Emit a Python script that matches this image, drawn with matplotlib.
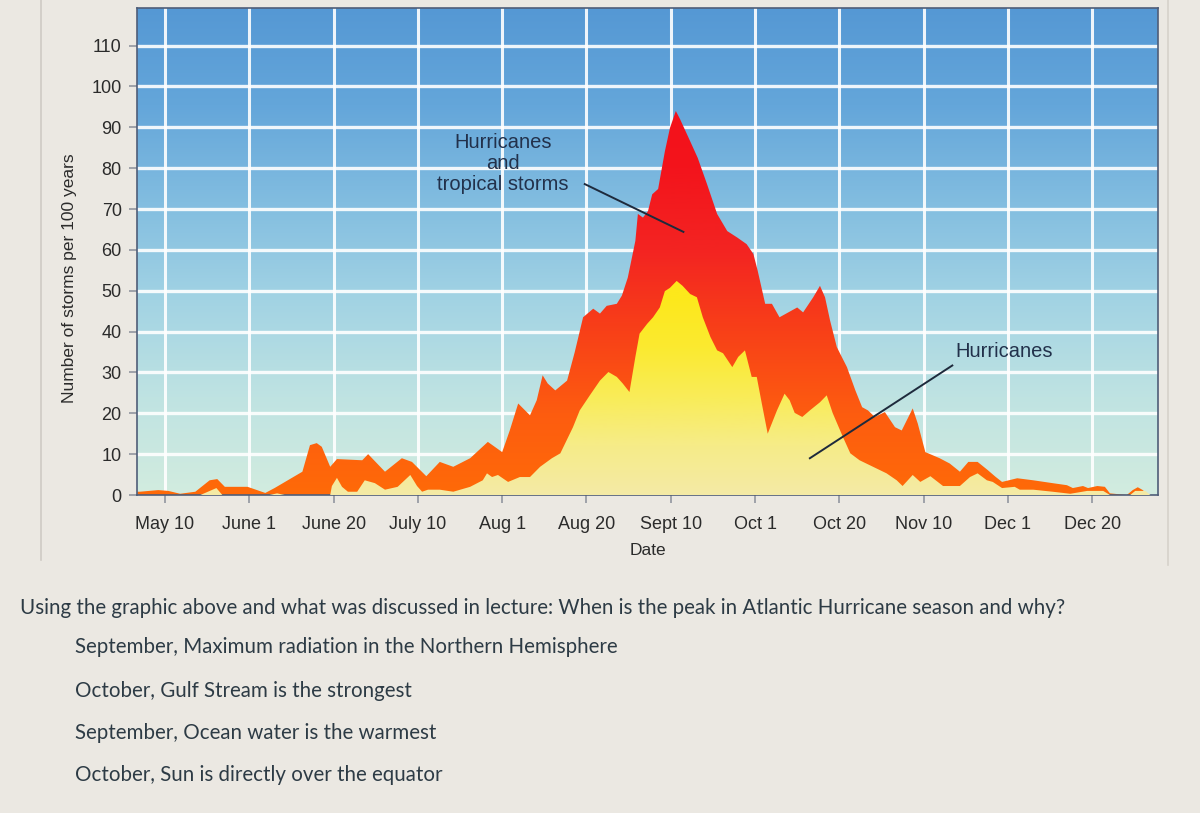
import numpy as np
import matplotlib.pyplot as plt
from matplotlib.colors import LinearSegmentedColormap
from matplotlib.patches import Polygon
from matplotlib.lines import Line2D

# ---------------- data ----------------
date_labels = ['May 10', 'June 1', 'June 20', 'July 10', 'Aug 1', 'Aug 20',
               'Sept 10', 'Oct 1', 'Oct 20', 'Nov 10', 'Dec 1', 'Dec 20']
storm_ticks = list(range(0, 111, 10))

# x in "tick units" (0 = May 10, 1 = June 1, ... 11 = Dec 20)
total_x = [-0.33, -0.30, -0.08, 0.04, 0.18, 0.36, 0.53, 0.62, 0.71, 0.98, 1.19, 1.30,
           1.63, 1.72, 1.80, 1.86, 1.96, 2.04, 2.34, 2.41, 2.61, 2.81, 2.93, 3.10,
           3.26, 3.42, 3.62, 3.83, 4.00, 4.09, 4.19, 4.33, 4.41, 4.48, 4.54, 4.63,
           4.77, 4.86, 4.96, 5.08, 5.16, 5.24, 5.36, 5.42, 5.49, 5.58, 5.61, 5.67,
           5.73, 5.78, 5.85, 5.93, 5.99, 6.06, 6.11, 6.23, 6.32, 6.43, 6.55, 6.67,
           6.79, 6.90, 6.98, 7.03, 7.12, 7.20, 7.29, 7.50, 7.57, 7.69, 7.77, 7.83,
           7.89, 7.97, 8.09, 8.19, 8.27, 8.34, 8.42, 8.54, 8.66, 8.74, 8.87, 8.93,
           9.02, 9.19, 9.31, 9.43, 9.53, 9.64, 9.76, 9.85, 9.93, 10.11, 10.30, 10.53,
           10.70, 10.77, 10.89, 10.95, 11.06, 11.15, 11.21, 11.41, 11.48, 11.54,
           11.60, 11.66, 11.78]
total_y = [0.8, 0.8, 1.2, 1.0, 0.3, 0.8, 3.6, 3.9, 2.0, 2.0, 0.5, 1.7,
           5.7, 12.2, 12.7, 11.8, 6.9, 8.8, 8.5, 10.0, 5.7, 9.0, 8.1, 4.6,
           8.1, 6.9, 9.0, 13.0, 10.5, 15.8, 22.4, 19.5, 23.2, 29.3, 27.3, 25.6,
           28.0, 34.9, 43.5, 45.6, 44.4, 46.3, 46.8, 48.8, 53.2, 62.2, 68.8, 67.9,
           69.5, 73.6, 74.9, 84.1, 89.8, 94.0, 92.0, 86.6, 82.5, 76.1, 68.8, 64.6,
           63.0, 61.4, 59.0, 55.0, 46.8, 46.8, 43.5, 45.9, 44.7, 48.4, 51.2, 48.4,
           42.7, 36.2, 31.3, 25.6, 21.5, 20.7, 19.1, 20.3, 16.6, 15.8, 21.2, 17.5,
           10.5, 9.0, 7.7, 5.7, 8.1, 8.1, 6.1, 4.5, 3.2, 4.1, 3.6, 2.9,
           2.4, 1.7, 2.2, 1.7, 2.2, 2.0, 0.4, 0.0, 1.2, 1.9,
           1.2, 0.0, 0.0]

hurricane_x = [-0.33, 0.42, 0.61, 0.68, 1.24, 1.33, 1.42, 1.96, 1.98, 2.04, 2.10,
               2.17, 2.28, 2.37, 2.49, 2.61, 2.76, 2.91, 2.99, 3.05, 3.12, 3.26,
               3.42, 3.62, 3.77, 3.82, 3.88, 3.95, 4.07, 4.21, 4.33, 4.45, 4.59,
               4.69, 4.84, 4.92, 5.04, 5.16, 5.26, 5.36, 5.43, 5.51, 5.58, 5.63,
               5.72, 5.79, 5.87, 5.93, 5.99, 6.07, 6.14, 6.23, 6.31, 6.38, 6.47,
               6.55, 6.62, 6.73, 6.80, 6.88, 6.96, 7.02, 7.08, 7.15, 7.26, 7.35,
               7.41, 7.47, 7.56, 7.65, 7.77, 7.85, 7.92, 8.04, 8.13, 8.24, 8.40,
               8.56, 8.68, 8.75, 8.87, 8.96, 9.08, 9.23, 9.43, 9.55, 9.64, 9.75,
               9.82, 9.93, 10.08, 10.14, 10.30, 10.53, 10.74, 10.94, 11.13, 11.21,
               11.45, 11.51, 11.63, 11.69, 11.78]
hurricane_y = [0.0, 0.0, 1.7, 0.0, 0.0, 0.4, 0.0, 0.0, 2.2, 4.2, 2.0,
               0.8, 0.8, 3.6, 2.9, 1.3, 2.0, 4.9, 2.2, 0.8, 1.3, 1.3,
               0.8, 2.0, 3.6, 5.3, 4.4, 4.9, 3.2, 4.4, 4.4, 6.9, 9.0,
               10.2, 16.6, 20.7, 24.4, 28.0, 30.1, 28.9, 27.3, 25.2, 33.8, 39.5,
               41.9, 43.5, 45.9, 49.9, 50.7, 52.4, 51.2, 49.2, 48.4, 43.5, 38.7,
               35.4, 34.7, 31.3, 33.8, 35.4, 28.9, 28.9, 22.4, 15.0, 20.7, 24.8,
               23.2, 20.1, 19.1, 20.7, 22.7, 24.4, 20.1, 14.3, 10.2, 8.5, 6.9,
               5.3, 3.6, 2.2, 4.9, 3.2, 4.6, 2.2, 2.2, 4.4, 5.3, 3.6,
               3.2, 1.7, 2.0, 1.3, 1.3, 0.8, 0.3, 1.0, 1.0, 0.0,
               0.0, 1.0, 1.0, 0.0, 0.0]

question = ("Using the graphic above and what was discussed in lecture: "
            "When is the peak in Atlantic Hurricane season and why?")
options = ["September, Maximum radiation in the Northern Hemisphere",
           "October, Gulf Stream is the strongest",
           "September, Ocean water is the warmest",
           "October, Sun is directly over the equator"]

# ---------------- figure ----------------
W, H = 1200, 813
fig = plt.figure(figsize=(12, 8.13), dpi=100)
fig.patch.set_facecolor('#ebe8e2')

ax = fig.add_axes([137 / W, 1 - 495 / H, (1158 - 137) / W, (495 - 8) / H])
XL = (-0.332, 11.78)
YL = (0, 119.2)

grad = np.linspace(0, 1, 256).reshape(-1, 1)

# background sky gradient (bottom -> top)
bg_cmap = LinearSegmentedColormap.from_list(
    'bg', ['#d2ecdf', '#bfe3e2', '#a2d3e4', '#82bde0', '#64a6da', '#5598d4'])
ax.imshow(grad, cmap=bg_cmap, extent=[XL[0], XL[1], YL[0], YL[1]],
          origin='lower', aspect='auto', zorder=0)

# grid
for i in range(len(date_labels)):
    ax.axvline(i, color='white', lw=2.2, alpha=0.9, zorder=1)
for v in storm_ticks[1:]:
    ax.axhline(v, color='white', lw=2.4, alpha=0.9, zorder=1)


def gradient_area(x, y, colors, vmax, z):
    verts = list(zip(x, y)) + list(zip(x[::-1], [0.0] * len(x)))
    patch = Polygon(verts, closed=True, facecolor='none', edgecolor='none',
                    transform=ax.transData)
    ax.add_patch(patch)
    cmap = LinearSegmentedColormap.from_list('g', colors)
    im = ax.imshow(grad, cmap=cmap, extent=[XL[0], XL[1], 0, vmax],
                   origin='lower', aspect='auto', zorder=z)
    im.set_clip_path(patch)


gradient_area(total_x, total_y,
              ['#ff6a08', '#fd5c10', '#f84018', '#f32422', '#f3141c', '#f5101a'],
              100, 2)
gradient_area(hurricane_x, hurricane_y,
              ['#f4eaa6', '#f6ec88', '#f9ec58', '#fbea30', '#fde81c', '#fde818'],
              60, 3)

ax.set_xlim(*XL)
ax.set_ylim(*YL)

ax.set_xticks(range(len(date_labels)))
ax.set_xticklabels(date_labels)
ax.set_yticks(storm_ticks)
ax.tick_params(axis='both', direction='out', length=6, width=1.1,
               color='#8a8f99', labelsize=13, labelcolor='#2b2b2b',
               labelfontfamily='Liberation Sans')
ax.tick_params(axis='x', pad=9)
ax.tick_params(axis='y', pad=5)
for s in ax.spines.values():
    s.set_color('#4f5d78')
    s.set_linewidth(1.2)

# annotations
txt_col = '#22314b'
ax.text(4.01, 81.2, 'Hurricanes\nand\ntropical storms', ha='center', va='center',
        fontsize=14.5, family='Liberation Sans', color=txt_col, linespacing=1.12,
        zorder=5)
ax.add_line(Line2D([4.98, 6.15], [76.1, 64.4], color='#1e2a3c', lw=1.4, zorder=5))

ax.text(9.96, 35.1, 'Hurricanes', ha='center', va='center', fontsize=14.5,
        family='Liberation Sans', color=txt_col, zorder=5)
ax.add_line(Line2D([9.34, 7.65], [31.7, 9.0], color='#1e2a3c', lw=1.4, zorder=5))

# axis labels
fig.text(70 / W, 1 - 278 / H, 'Number of storms per 100 years', rotation=90,
         ha='center', va='center', fontsize=12.5, family='Liberation Sans',
         color='#2b2b2b')
fig.text(648 / W, 1 - 550 / H, 'Date', ha='center', va='center', fontsize=12.5,
         family='Liberation Sans', color='#2b2b2b')

# decorative page edges
fig.add_artist(Line2D([41 / W, 41 / W], [1 - 560 / H, 1.0], color='#cfcbc4', lw=1.2))
fig.add_artist(Line2D([1168 / W, 1168 / W], [1 - 565 / H, 1.0], color='#d6d2cb', lw=1.2))

# question text
q_col = '#2d3b45'
fig.text(20 / W, 1 - 608 / H, question, ha='left', va='center', fontsize=14.8,
         family='Lato', color=q_col)
for yy, opt in zip([647, 691, 733, 775], options):
    fig.text(75 / W, 1 - yy / H, opt, ha='left', va='center', fontsize=14.8,
             family='Lato', color=q_col)

fig.savefig('out.png', dpi=100, facecolor=fig.get_facecolor())
